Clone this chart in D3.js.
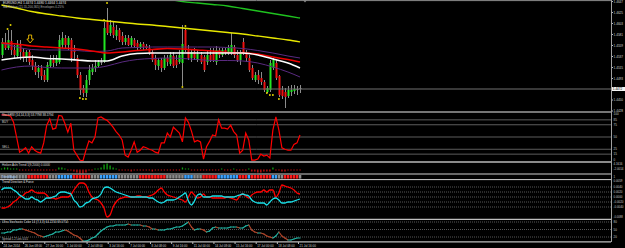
<!DOCTYPE html>
<html lang="en">
<head>
<meta charset="UTF-8">
<title>EURUSD H4</title>
<script src="https://cdnjs.cloudflare.com/ajax/libs/d3/7.8.5/d3.min.js"></script>
<style>
  html, body { margin: 0; padding: 0; background: #000; }
  svg { display: block; font-family: "Liberation Sans", Arial, sans-serif; }
</style>
</head>
<body>
<svg width="625" height="248"></svg>
<script>
// ---- price candles (H4) ----
const opens = [1.4540,1.4564,1.4554,1.4568,1.4550,1.4538,1.4560,1.4546,1.4534,1.4546,
  1.4530,1.4518,1.4506,1.4514,1.4500,1.4490,1.4518,1.4530,1.4524,1.4526,
  1.4560,1.4574,1.4560,1.4570,1.4550,1.4534,1.4500,1.4474,1.4464,1.4490,
  1.4506,1.4514,1.4518,1.4526,1.4526,1.4606,1.4584,1.4596,1.4578,1.4590,
  1.4578,1.4566,1.4574,1.4560,1.4570,1.4564,1.4556,1.4562,1.4558,1.4554,
  1.4546,1.4534,1.4518,1.4530,1.4514,1.4534,1.4522,1.4538,1.4530,1.4526,
  1.4524,1.4590,1.4550,1.4534,1.4546,1.4530,1.4540,1.4536,1.4526,1.4540,
  1.4546,1.4526,1.4550,1.4540,1.4550,1.4544,1.4546,1.4556,1.4540,1.4530,
  1.4566,1.4544,1.4534,1.4514,1.4490,1.4500,1.4494,1.4486,1.4466,1.4470,
  1.4514,1.4524,1.4498,1.4470,1.4466,1.4458,1.4466,1.4468,1.4470,1.4472];
const closes = [1.4566,1.4554,1.4570,1.4550,1.4540,1.4560,1.4546,1.4534,1.4546,1.4526,
  1.4518,1.4506,1.4514,1.4498,1.4490,1.4520,1.4530,1.4524,1.4534,1.4570,
  1.4574,1.4560,1.4574,1.4534,1.4546,1.4500,1.4470,1.4464,1.4490,1.4510,
  1.4514,1.4518,1.4526,1.4524,1.4594,1.4584,1.4600,1.4580,1.4590,1.4570,
  1.4566,1.4574,1.4560,1.4574,1.4558,1.4556,1.4562,1.4556,1.4554,1.4544,
  1.4530,1.4520,1.4530,1.4514,1.4534,1.4526,1.4540,1.4518,1.4520,1.4540,
  1.4562,1.4550,1.4534,1.4546,1.4534,1.4542,1.4526,1.4510,1.4540,1.4530,
  1.4530,1.4550,1.4540,1.4550,1.4544,1.4554,1.4560,1.4540,1.4530,1.4546,
  1.4544,1.4534,1.4510,1.4494,1.4500,1.4490,1.4486,1.4470,1.4474,1.4524,
  1.4530,1.4494,1.4460,1.4458,1.4456,1.4470,1.4470,1.4472,1.4472,1.4474];
const highs = [1.4574,1.4584,1.4590,1.4590,1.4560,1.4570,1.4570,1.4554,1.4550,1.4550,
  1.4540,1.4526,1.4520,1.4520,1.4510,1.4526,1.4540,1.4540,1.4540,1.4580,
  1.4586,1.4580,1.4578,1.4574,1.4560,1.4540,1.4506,1.4480,1.4500,1.4520,
  1.4522,1.4530,1.4530,1.4534,1.4606,1.4634,1.4610,1.4606,1.4600,1.4594,
  1.4586,1.4580,1.4580,1.4578,1.4574,1.4570,1.4566,1.4566,1.4562,1.4560,
  1.4550,1.4540,1.4534,1.4534,1.4540,1.4540,1.4546,1.4546,1.4540,1.4550,
  1.4600,1.4594,1.4560,1.4550,1.4554,1.4550,1.4546,1.4540,1.4550,1.4554,
  1.4554,1.4558,1.4554,1.4554,1.4554,1.4560,1.4584,1.4560,1.4550,1.4550,
  1.4574,1.4550,1.4540,1.4520,1.4506,1.4510,1.4506,1.4490,1.4478,1.4530,
  1.4534,1.4530,1.4500,1.4478,1.4474,1.4478,1.4480,1.4480,1.4478,1.4480];
const lows = [1.4534,1.4550,1.4550,1.4540,1.4534,1.4534,1.4530,1.4526,1.4526,1.4520,
  1.4510,1.4500,1.4494,1.4490,1.4486,1.4486,1.4514,1.4516,1.4518,1.4522,
  1.4554,1.4554,1.4550,1.4526,1.4530,1.4494,1.4460,1.4456,1.4456,1.4480,
  1.4500,1.4506,1.4514,1.4520,1.4524,1.4580,1.4578,1.4574,1.4570,1.4566,
  1.4560,1.4560,1.4558,1.4556,1.4554,1.4550,1.4552,1.4550,1.4550,1.4540,
  1.4526,1.4510,1.4510,1.4506,1.4510,1.4518,1.4518,1.4514,1.4514,1.4522,
  1.4478,1.4546,1.4530,1.4526,1.4530,1.4526,1.4522,1.4506,1.4520,1.4526,
  1.4526,1.4520,1.4534,1.4536,1.4540,1.4540,1.4540,1.4534,1.4526,1.4520,
  1.4540,1.4526,1.4506,1.4490,1.4486,1.4482,1.4480,1.4466,1.4464,1.4466,
  1.4510,1.4490,1.4456,1.4452,1.4434,1.4454,1.4458,1.4462,1.4460,1.4464];
const lastPrice = 1.4472;

// ---- moving averages, read every 5 bars ----
const maBars = [0,5,10,15,20,25,30,35,40,45,50,55,60,65,70,75,80,85,90,95,99];
const maYellow = [1.4640,1.4634,1.4627,1.4622,1.4618,1.4614,1.4611,1.4608,1.4605,1.4602,1.4600,
  1.4597,1.4594,1.4591,1.4588,1.4585,1.4582,1.4578,1.4574,1.4570,1.4566];
const maRed = [1.4564,1.4562,1.4558,1.4556,1.4554,1.4552,1.4548,1.4544,1.4546,1.4549,1.4551,
  1.4553,1.4552,1.4550,1.4548,1.4545,1.4544,1.4542,1.4536,1.4531,1.4526];
const maWhite = [1.4530,1.4534,1.4536,1.4533,1.4532,1.4530,1.4528,1.4528,1.4538,1.4543,1.4544,
  1.4544,1.4544,1.4544,1.4544,1.4544,1.4544,1.4540,1.4532,1.4524,1.4514];
const bandUpper = [1.4564,1.4556,1.4551,1.4550,1.4550,1.4549,1.4547,1.4548,1.4554,1.4555,1.4556,
  1.4556,1.4556,1.4556,1.4556,1.4555,1.4553,1.4549,1.4544,1.4538,1.4534];
const bandLower = [1.4510,1.4516,1.4518,1.4515,1.4514,1.4514,1.4514,1.4518,1.4526,1.4531,1.4533,
  1.4534,1.4533,1.4531,1.4529,1.4529,1.4528,1.4524,1.4516,1.4506,1.4496];
const greenBars = [50,55,60,65,70,75,80,85,90,95,99];
const maGreen = [1.4658,1.4652,1.4647,1.4644,1.4641,1.4638,1.4633,1.4628,1.4623,1.4618,1.4614];

// fractal dots [bar, price] and the signal arrow
const fractals = [[2,1.4592],[3,1.4600],[34,1.4610],[35,1.4644],[61,1.4598],[60,1.4476],
  [26,1.4454],[27,1.4452],[28,1.4452],[88,1.4464],[89,1.4460],[90,1.4460],[92,1.4452]];
const arrowSignal = {bar: 9.5, price: 1.4580};

const priceTicks = [1.4647,1.4625,1.4603,1.4581,1.4559,1.4537,1.4515,1.4493,1.4450,1.4428];

// ---- oscillator panel ----
const stochValues = [95,95,94,93,80,50,19,23,28,17,
  30,23,19,17,38,74,87,66,68,94,
  93,78,60,78,23,13,3,1,23,42,
  38,50,89,91,87,84,78,70,61,54,
  44,13,9,23,40,19,23,30,28,25,
  23,19,17,38,38,58,50,70,64,58,
  40,89,80,62,40,43,40,5,30,41,
  54,52,85,68,68,66,74,61,54,17,
  23,58,44,3,3,5,15,11,13,7,
  64,91,64,28,25,23,23,35,38,54];
const stochLevels = [85,75,50,25,15];
const stochLabels = [100,85,75,50,25,15,0];

// ---- heiken ashi histogram ----
const haHist = [1,2,2,1,1,1,
  -1,-1,-1,-1,-1,-1,-1,-1,-1,-1,-1,-1,-1,
  2,2,1,-1,-1,-2,-3,-4,-4,-3,-1,-1,1,1,2,5,6,4,2,1,
  -1,-1,-1,-1,-2,-1,-1,-1,-1,-1,-1,-2,-1,-1,-1,-1,-1,-1,-1,-1,-1,
  2,1,1,-1,-1,-1,-1,-1,-1,-1,-1,-1,-1,
  1,-1,-1,-1,1,-1,-1,-1,-1,1,
  -2,-2,-3,-3,-2,-2,-2,2,-1,-1,-2,-2,-1,-1,-1,-1,-1];

// ---- trend colour bar (r = down, b = up, g = flat) ----
const trendBar = ("ggggggggg" + "rrrrrrr" + "ggg" + "bbbbb" + "rrrrrr" + "ggg" + "bbbbbb" +
  "ggggggg" + "rrrrrrrrr" + "gggggg" + "bbb" + "ggg" + "rrrrr" + "bbbbbbb" + "rrr" + "b" +
  "rrrrrrr" + "bb" + "gg" + "rrrrr" + "g").split("");

// ---- trend direction & force ----
const trendCyan = [7,9,9,9,7,5,2,0,-2,-2,
  0,-2,-3,-5,-3,-1,-1,0,1,4,
  5,5,4,3,-3,-6,-10,-9,-6,-5,
  -2,-1,0,3,9,10,9,7,5,4,
  3,2,1,0,0,0,0,0,0,-1,
  -1,-3,-5,-6,-5,-3,-3,-3,-2,0,
  2,4,-4,-8,-4,2,3,0,0,0,
  1,1,1,1,0,0,0,0,1,2,
  3,2,1,-3,-5,-6,-6,-6,-8,-5,
  -2,-1,-3,-6,-6,-5,-5,-4,-3,-2];
const trendRed = [-11,-11,-10,-8,-5,-3,0,1,4,5,
  7,5,4,4,4,2,-1,-1,-2,-1,
  0,0,0,2,7,11,14,14,12,5,
  0,-2,-3,-6,-11,-20,-18,-10,-5,-2,
  -1,0,0,0,0,1,1,0,0,1,
  2,4,7,9,5,2,1,0,-1,-2,
  -3,-5,0,5,2,-1,0,3,0,0,
  -1,-1,-1,-1,-1,0,-1,-2,-3,1,
  3,1,-1,2,4,5,5,7,5,7,
  7,0,4,12,11,10,9,7,4,3];
const trendLevels = [10,5,0,-5,-10];
const trendLabels = ["0.0040","0.0020","0.0000","-0.0020","-0.0040"];

// ---- ultra stochastic ----
const oscValues = [36,36,40,40,48,48,52,52,48,44,
  40,36,28,24,20,24,28,32,40,40,
  44,48,44,36,28,24,16,4,4,8,
  16,20,32,44,52,60,64,64,68,68,
  68,68,72,68,68,68,68,64,64,60,
  52,52,48,48,48,52,52,56,60,60,
  64,72,80,60,48,52,52,48,40,44,
  56,60,56,56,56,56,60,60,60,56,
  56,64,68,48,40,36,36,32,24,20,
  16,24,40,24,16,8,8,12,16,16];
const oscLevels = [80,50,20];

const timeLabels = ["24 Jun 2014","26 Jun 08:00","27 Jun 16:00","1 Jul 00:00","2 Jul 08:00",
  "3 Jul 16:00","7 Jul 00:00","8 Jul 08:00","9 Jul 16:00","11 Jul 00:00","14 Jul 08:00",
  "15 Jul 16:00","17 Jul 00:00","18 Jul 08:00","21 Jul 16:00"];

// ================= drawing =================
let svg = d3.select('svg');
const plotR = 611;

let x = d3.scaleLinear().domain([0, 99]).range([1.5, 300]);
let yPrice = d3.scaleLinear().domain([1.4426, 1.4650]).range([112, 0]);
let yStoch = d3.scaleLinear().domain([0, 100]).range([161.5, 112.5]);
let yHist = d3.scaleLinear().domain([-4, 7]).range([173.5, 162.5]);
let yTrend = d3.scaleLinear().domain([-22, 17]).range([219, 180]);
let yOsc = d3.scaleLinear().domain([0, 100]).range([242, 217]);
let xTime = d3.scalePoint().domain(timeLabels).range([2, 298]);

svg.append('rect').attr('width', 625).attr('height', 248).attr('fill', '#000');

let defs = svg.append('defs');
defs.append('clipPath').attr('id', 'clipMain')
  .append('rect').attr('x', 0).attr('y', 1).attr('width', plotR).attr('height', 111);
defs.append('clipPath').attr('id', 'clipStoch')
  .append('rect').attr('x', 0).attr('y', 112).attr('width', plotR).attr('height', 50);

function hline(y, color, w, dash) {
  svg.append('line').attr('x1', 0).attr('x2', plotR).attr('y1', y).attr('y2', y)
    .attr('stroke', color).attr('stroke-width', w || 1)
    .attr('stroke-dasharray', dash || null);
}
function label(txt, xx, yy, color, size, anchor) {
  return svg.append('text').attr('x', xx).attr('y', yy).text(txt)
    .attr('fill', color).attr('font-size', size || 3.4)
    .attr('text-anchor', anchor || 'start');
}

// ---- main panel ----
let gMain = svg.append('g').attr('clip-path', 'url(#clipMain)');

hline(yPrice(lastPrice), '#707070', 1);

let candles = opens.map((o, i) => ({i: i, o: o, c: closes[i], h: highs[i], l: lows[i]}));

gMain.selectAll('line.wick').data(candles).join('line')
  .attr('x1', d => Math.round(x(d.i)) + 0.5).attr('x2', d => Math.round(x(d.i)) + 0.5)
  .attr('y1', d => yPrice(d.h)).attr('y2', d => yPrice(d.l))
  .attr('stroke', '#8c8c8c').attr('stroke-width', 1);

gMain.selectAll('rect.body').data(candles).join('rect')
  .attr('x', d => Math.round(x(d.i)) - 0.5).attr('width', 2)
  .attr('y', d => yPrice(Math.max(d.o, d.c)))
  .attr('height', d => Math.max(1, Math.abs(yPrice(d.o) - yPrice(d.c))))
  .attr('fill', d => Math.abs(d.c - d.o) <= 0.00021 ? '#9a9a9a' : (d.c > d.o ? '#22e622' : '#ee1111'));

let maLine = d3.line().x(d => x(d[0])).y(d => yPrice(d[1])).curve(d3.curveMonotoneX);
function drawMa(bars, vals, color, w) {
  gMain.append('path').datum(bars.map((b, k) => [b, vals[k]]))
    .attr('d', maLine).attr('fill', 'none').attr('stroke', color).attr('stroke-width', w);
}
drawMa(maBars, bandUpper, '#5a2a80', 1);
drawMa(maBars, bandLower, '#5a2a80', 1);
drawMa(maBars, maYellow, '#e8e800', 1.3);
drawMa(greenBars, maGreen, '#1fc21f', 1.3);
drawMa(maBars, maRed, '#ee0000', 1.6);
drawMa(maBars, maWhite, '#ffffff', 1.6);

gMain.selectAll('rect.fr').data(fractals).join('rect')
  .attr('x', d => x(d[0]) - 0.8).attr('y', d => yPrice(d[1]) - 0.8)
  .attr('width', 1.6).attr('height', 1.6).attr('fill', '#ffee00');

gMain.append('path')
  .attr('transform', `translate(${x(arrowSignal.bar)},${yPrice(arrowSignal.price)})`)
  .attr('d', 'M-1.5,0 h3 v4 h1.8 l-3.3,4 l-3.3,-4 h1.8 z')
  .attr('fill', 'none').attr('stroke', '#f0c000').attr('stroke-width', 0.9);

// chart shift marker
svg.append('path').attr('d', `M${x(99) + 3},0 h4 l-2,2.5 z`).attr('fill', '#8a8a8a');

label('EURUSD,H4  1.4474 1.4480 1.4464 1.4474', 3, 4.2, '#e0e0e0', 3.3);
label('MA Ribbon (21,55,200,365) Envelopes 0.25%', 3, 8, '#b0b0b0', 3.0);

// price axis
priceTicks.forEach(p => {
  svg.append('line').attr('x1', plotR).attr('x2', plotR + 2)
    .attr('y1', yPrice(p)).attr('y2', yPrice(p)).attr('stroke', '#bbb');
  label(p.toFixed(4), plotR + 2.6, yPrice(p) + 1.2, '#d0d0d0', 3.1);
});
svg.append('rect').attr('x', plotR + 0.5).attr('y', yPrice(lastPrice) - 2)
  .attr('width', 13.5).attr('height', 4).attr('fill', '#f4f4f4');
label(lastPrice.toFixed(4), plotR + 1.8, yPrice(lastPrice) + 1.2, '#000', 3.1);

// ---- stochastic panel ----
stochLevels.forEach(v => hline(yStoch(v), '#5c5c5c', 1));
svg.append('path').datum(stochValues)
  .attr('clip-path', 'url(#clipStoch)')
  .attr('d', d3.line().x((d, i) => x(i)).y(d => yStoch(d)))
  .attr('fill', 'none').attr('stroke', '#ff0000').attr('stroke-width', 1.2);
label('StochRSI (14,14,3,3) 53.7798 38.1794', 2, 116, '#e0e0e0', 3.0);
label('BUY', 2, 123.3, '#cfcfcf', 3.0);
label('SELL', 2, 148.3, '#cfcfcf', 3.0);
stochLabels.forEach(v => {
  label(String(v), plotR + 2.6, Math.min(Math.max(yStoch(v) + 1.2, 115), 160.5), '#c8c8c8', 3.0);
});

// ---- heiken ashi histogram ----
svg.selectAll('rect.ha').data(haHist).join('rect')
  .attr('x', (d, i) => x(i) - 0.6).attr('width', 1.3)
  .attr('y', d => d > 0 ? yHist(d) : yHist(0))
  .attr('height', d => Math.abs(yHist(d) - yHist(0)))
  .attr('fill', d => d > 0 ? '#12a612' : '#d01010');
label('Heiken Ashi Trend 1(9,2000) 0.0000', 2, 166.3, '#d8d8d8', 3.0);
label('4.1616', plotR + 2.6, 165.2, '#c8c8c8', 2.9);
label('-2.0014', plotR + 2.6, 169.6, '#c8c8c8', 2.9);

// ---- trend colour bar ----
const barColor = {r: '#ff1a1a', b: '#3aa2ff', g: '#8a8a8a'};
svg.selectAll('rect.tb').data(trendBar).join('rect')
  .attr('x', (d, i) => x(i) - 1.2).attr('width', 2.5)
  .attr('y', 175).attr('height', 3.6)
  .attr('fill', d => barColor[d]);
label('TrendMagic', 2, 178, '#9fd0ff', 2.8);
label('1', plotR + 2.6, 178, '#c8c8c8', 2.9);

// ---- trend direction panel ----
trendLevels.forEach(v => hline(yTrend(v), '#6c6c6c', 0.8, '1,1'));
let trendLine = d3.line().x((d, i) => x(i)).y(d => yTrend(d)).curve(d3.curveMonotoneX);
svg.append('path').datum(trendRed).attr('d', trendLine)
  .attr('fill', 'none').attr('stroke', '#ff0000').attr('stroke-width', 1.3);
svg.append('path').datum(trendCyan).attr('d', trendLine)
  .attr('fill', 'none').attr('stroke', '#19e0e8').attr('stroke-width', 1.3);
label('Trend Direction & Force', 2, 183.2, '#e0e0e0', 3.0);
label('0.0059', plotR + 2.6, 182, '#c8c8c8', 2.9);
trendLevels.forEach((v, k) => label(trendLabels[k], plotR + 2.6, yTrend(v) + 1.1, '#c8c8c8', 2.9));
label('-0.0088', plotR + 2.6, 217.6, '#c8c8c8', 2.7);

// ---- ultra stochastic panel ----
oscLevels.forEach(v => hline(yOsc(v), '#6c6c6c', 0.8, '1,1'));
let segs = oscValues.slice(1).map((v, k) => ({a: k, b: k + 1, va: oscValues[k], vb: v}));
svg.selectAll('line.osc').data(segs).join('line')
  .attr('x1', d => x(d.a)).attr('x2', d => x(d.b))
  .attr('y1', d => yOsc(d.va)).attr('y2', d => yOsc(d.vb))
  .attr('stroke', d => d.vb < d.va ? '#b0452a' : '#22b3a3')
  .attr('stroke-width', 1.2).attr('stroke-linecap', 'round');
label('Ultra Stochastic Color 14 (7,3,3) 64.2234 69.0754', 2, 223.3, '#d8d8d8', 3.0);
label('Spread 1.2  Lots 0.01', 2, 240, '#c0c0c0', 2.8);
oscLevels.forEach(v => label(String(v), plotR + 2.6, yOsc(v) + 1.1, '#c8c8c8', 2.9));

// ---- panel borders ----
hline(0.6, '#8a8a8a', 1);
hline(112, '#9c9c9c', 1.3);
hline(162, '#8a8a8a', 2);
hline(174, '#cfcfcf', 1);
hline(179.6, '#cfcfcf', 1);
hline(219.3, '#bdbdbd', 1.2);
hline(241.8, '#bdbdbd', 1.2);
svg.append('line').attr('x1', plotR + 0.5).attr('x2', plotR + 0.5)
  .attr('y1', 0).attr('y2', 242).attr('stroke', '#a0a0a0');

// ---- time axis ----
timeLabels.forEach(t => {
  svg.append('line').attr('x1', xTime(t) + 0.5).attr('x2', xTime(t) + 0.5)
    .attr('y1', 242).attr('y2', 244).attr('stroke', '#bbb');
  label(t, xTime(t) + 1.5, 247, '#d0d0d0', 3.0);
});
</script>
</body>
</html>
